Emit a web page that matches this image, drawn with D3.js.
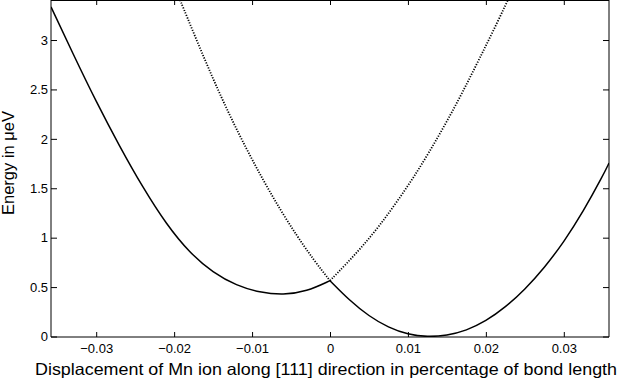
<!DOCTYPE html>
<html>
<head>
<meta charset="utf-8">
<script src="https://cdn.jsdelivr.net/npm/d3@7"></script>
<style>
  body { margin: 0; background: #fff; }
  svg text { font-family: "Liberation Sans", Arial, sans-serif; fill: #000; }
</style>
</head>
<body>
<div id="chart"></div>
<script>
// values: displacement (fraction of bond length) -> energy (ueV)
const solidX = [-0.0358, -0.0330, -0.0300, -0.0270, -0.0240, -0.0210, -0.0180, -0.0150, -0.0120, -0.0090, -0.0060, -0.0030, 0,
  0.0025, 0.0050, 0.0075, 0.0100, 0.0125, 0.0150, 0.0175, 0.0200, 0.0225, 0.0250, 0.0275, 0.0300, 0.0325, 0.0350, 0.0358];
const solidE = [3.34, 2.87, 2.38, 1.93, 1.51, 1.14, 0.85, 0.65, 0.52, 0.45, 0.425, 0.46, 0.57,
  0.37, 0.21, 0.095, 0.025, 0.0, 0.015, 0.065, 0.16, 0.30, 0.48, 0.70, 0.96, 1.27, 1.63, 1.76];

const dottedX = [-0.0195, -0.0171, -0.0150, -0.0128, -0.0107, -0.0086, -0.0064, -0.0043, -0.0021, 0,
  0.0021, 0.0043, 0.0064, 0.0086, 0.0107, 0.0128, 0.0150, 0.0171, 0.0192, 0.0214, 0.0236];
const dottedE = [3.46, 3.00, 2.61, 2.23, 1.90, 1.59, 1.29, 1.03, 0.78, 0.57,
  0.74, 0.93, 1.13, 1.37, 1.61, 1.88, 2.18, 2.49, 2.82, 3.17, 3.54];

const xTicks = [-0.03, -0.02, -0.01, 0, 0.01, 0.02, 0.03];
const xTickLabels = ["\u22120.03", "\u22120.02", "\u22120.01", "0", "0.01", "0.02", "0.03"];
const yTicks = [0, 0.5, 1, 1.5, 2, 2.5, 3];
const yTickLabels = ["0", "0.5", "1", "1.5", "2", "2.5", "3"];

const W = 623, H = 379,
  pd = { top: 0, left: 51, right: 14, bottom: 42 },
  pw = W - pd.left - pd.right, // 558
  ph = H - pd.top - pd.bottom; // 337

const x = d3.scaleLinear().domain([-0.0358, 0.0358]).range([0, pw]);
const y = d3.scaleLinear().domain([0, 3.41]).range([ph, 0]);

const svg = d3.select("#chart").append("svg")
  .attr("width", W).attr("height", H);

svg.append("defs").append("clipPath").attr("id", "clip")
  .append("rect").attr("width", pw).attr("height", ph);

const g = svg.append("g").attr("transform", "translate(" + pd.left + "," + pd.top + ")");

// split a series at x = 0 so the kink stays sharp
const branches = (xs, es) => {
  const pts = xs.map((v, i) => [v, es[i]]);
  return [pts.filter(p => p[0] <= 0), pts.filter(p => p[0] >= 0)];
};
const line = d3.line().x(d => x(d[0])).y(d => y(d[1])).curve(d3.curveBasis);

const plot = g.append("g").attr("clip-path", "url(#clip)");
plot.selectAll(".dotted").data(branches(dottedX, dottedE)).enter()
  .append("path").attr("class", "dotted")
  .attr("d", line).attr("fill", "none")
  .attr("stroke", "#000").attr("stroke-width", 1.8)
  .attr("stroke-dasharray", "1.2,1.5");
plot.selectAll(".solid").data(branches(solidX, solidE)).enter()
  .append("path").attr("class", "solid")
  .attr("d", line).attr("fill", "none")
  .attr("stroke", "#000").attr("stroke-width", 1.5);

// axes, ticks pointing inward on all four sides
const ax = (axis, sel) => {
  sel.call(axis);
  sel.select(".domain").remove();
  sel.selectAll("text").style("font-size", "13px");
  return sel;
};
ax(d3.axisBottom(x).tickValues(xTicks).tickFormat((d, i) => xTickLabels[i])
    .tickSize(-5).tickPadding(7),
  g.append("g").attr("id", "x-axis").attr("transform", "translate(0," + ph + ")"));
ax(d3.axisTop(x).tickValues(xTicks).tickFormat("").tickSize(-5),
  g.append("g"));
ax(d3.axisLeft(y).tickValues(yTicks).tickFormat((d, i) => yTickLabels[i])
    .tickSize(-6).tickPadding(3).offset(0),
  g.append("g").attr("id", "y-axis"));
ax(d3.axisRight(y).tickValues(yTicks).tickFormat("").tickSize(-6).offset(0),
  g.append("g").attr("transform", "translate(" + pw + ",0)"));

// frame
g.append("path")
  .attr("d", "M0," + ph + "H" + pw + "V0")
  .attr("fill", "none").attr("stroke", "#000").attr("stroke-width", 1);
g.append("path")
  .attr("d", "M0," + ph + "V0")
  .attr("fill", "none").attr("stroke", "#000").attr("stroke-width", 1);
g.append("line").attr("x1", 0).attr("x2", pw).attr("y1", 0.5).attr("y2", 0.5)
  .attr("stroke", "#000");

// axis titles
svg.append("text")
  .attr("x", 326).attr("y", 375)
  .attr("text-anchor", "middle").style("font-size", "16.5px")
  .attr("textLength", 582).attr("lengthAdjust", "spacingAndGlyphs")
  .text("Displacement of Mn ion along [111] direction in percentage of bond length");
svg.append("text")
  .attr("transform", "translate(14,163) rotate(-90)")
  .attr("text-anchor", "middle").style("font-size", "16.5px")
  .text("Energy in \u03BCeV");
</script>
</body>
</html>
